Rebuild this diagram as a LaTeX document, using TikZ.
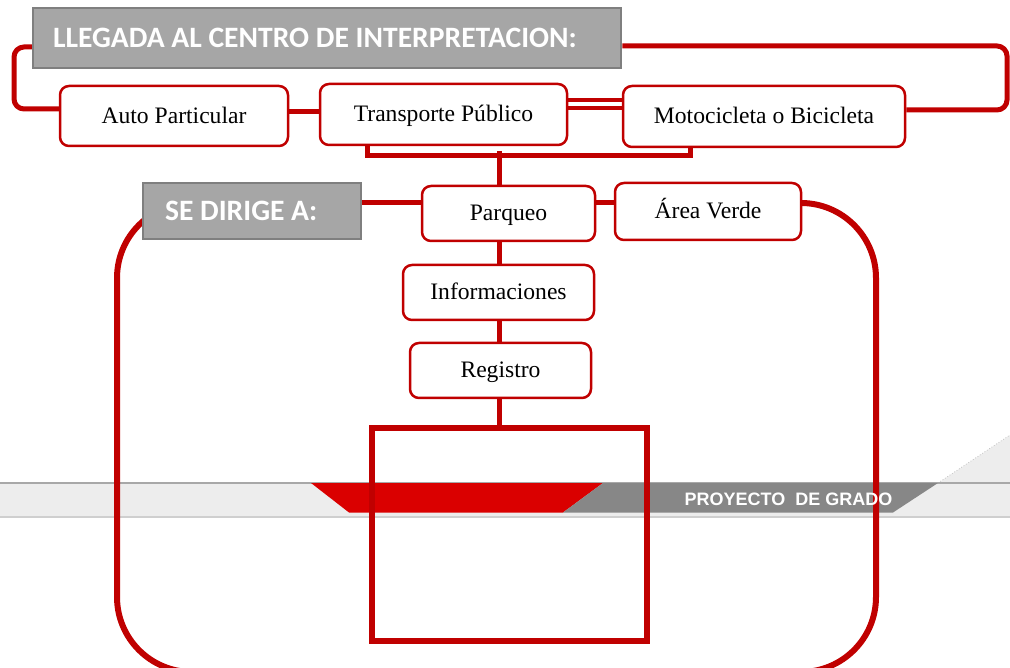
\documentclass[tikz,border=0pt]{standalone}
\usepackage{fontspec}
\setmainfont{Liberation Serif}
\newfontfamily\hdrfont{Carlito}
\newfontfamily\bandfont{Liberation Sans}
\usetikzlibrary{backgrounds}
\definecolor{rd}{HTML}{C00000}
\definecolor{trapred}{HTML}{DA0000}
\definecolor{hdrgray}{HTML}{A6A6A6}
\definecolor{hdrline}{HTML}{7F7F7F}
\definecolor{bandgray}{HTML}{EDEDED}
\definecolor{bandtop}{HTML}{A8A8A8}
\definecolor{bandbot}{HTML}{CFCFCF}
\definecolor{trapgray}{HTML}{878787}
\begin{document}
\begin{tikzpicture}[x=1pt,y=-1pt,
  hdrbox/.style={draw=hdrline, fill=hdrgray, line width=2.5pt, text=white,
    font=\hdrfont\bfseries\fontsize{29.6}{32}\selectfont, align=flush left, inner ysep=0pt},
  itembox/.style={draw=rd, fill=white, line width=2.5pt, rounded corners=9pt,
    inner sep=0pt, text height=16pt, text depth=1pt, font=\fontsize{23.6}{28}\selectfont},
  conn/.style={draw=rd, line width=5pt},
  thinconn/.style={draw=rd, line width=4pt},
  bigu/.style={draw=rd, line width=6pt, rounded corners=75pt},
  bandtext/.style={text=white, font=\bandfont\bfseries\fontsize{18}{20}\selectfont, inner sep=0pt}
]
\useasboundingbox (0,0) rectangle (1010,668);

% nodes
\node[hdrbox, text width=548pt, inner xsep=20pt, minimum height=60pt] (title) at (327,38) {\spaceskip=0pt\relax LLEGADA AL CENTRO DE INTERPRETACION:};
\node[hdrbox, text width=174pt, inner xsep=22pt, minimum height=56pt] (sedirige) at (252,211) {\spaceskip=0pt\relax SE DIRIGE A:};
\node[itembox, minimum width=228pt, minimum height=60pt] (auto) at (174,116) {Auto Particular};
\node[itembox, minimum width=247pt, minimum height=61pt] (transp) at (443.5,114.5) {Transporte Público};
\node[itembox, minimum width=282pt, minimum height=61pt] (moto) at (764,116.5) {Motocicleta o Bicicleta};
\node[itembox, minimum width=173pt, minimum height=55pt] (parqueo) at (508.5,213.5) {Parqueo};
\node[itembox, minimum width=186pt, minimum height=57pt] (area) at (708,211.5) {Área Verde};
\node[itembox, minimum width=191pt, minimum height=55pt] (info) at (498.5,292.5) {Informaciones};
\node[itembox, minimum width=181pt, minimum height=55pt] (reg) at (500.5,370.5) {Registro};
\node[draw=rd, line width=5.5pt, minimum width=275pt, minimum height=213pt, inner sep=0pt] (bigbox) at (509.5,534.5) {};
\node[bandtext] (pg) at (788.5,499.5) {PROYECTO\ \ DE GRADO};

% helper coordinates
\coordinate (lc) at (14,109);
\coordinate (rc) at (1007,110);
\coordinate (brk) at (499,156);
\coordinate (utl) at (117,203);
\coordinate (ubl) at (117,672);
\coordinate (ubr) at (876,672);
\coordinate (utr) at (876,203);

% connectors
\draw[conn, rounded corners=10pt] ([yshift=-9pt]title.west) -| (lc) -- ([yshift=7pt]auto.west);
\draw[conn, rounded corners=10pt] ([yshift=-8pt]title.east) -| (rc) -- ([yshift=6.5pt]moto.east);
\draw[conn] ([yshift=4pt]auto.east) -- ([yshift=2.5pt]transp.west);
\draw[thinconn] ([yshift=14.5pt]transp.east) -- ([yshift=16.5pt]moto.west);
\draw[thinconn] ([yshift=6.5pt]transp.east) -- ([yshift=8.5pt]moto.west);
\draw[conn] ([xshift=-76.5pt]transp.south) |- (brk) -| ([xshift=-74pt]moto.south);
\draw[conn] ([yshift=5pt]brk) -- (brk |- parqueo.north);
\draw[conn] ([yshift=8pt]sedirige.east) -- ([yshift=10.5pt]parqueo.west);
\draw[conn] ([yshift=10.5pt]parqueo.east) -- ([yshift=8.5pt]area.west);
\draw[conn] ([xshift=-9.5pt]parqueo.south) -- ([xshift=0.5pt]info.north);
\draw[conn] ([xshift=0.5pt]info.south) -- ([xshift=-1.5pt]reg.north);
\draw[conn] ([xshift=-1.5pt]reg.south) -- ([xshift=-10.5pt]bigbox.north);

\begin{scope}[on background layer]
  % band
  \fill[bandgray] (0,483) rectangle (1010,517);
  \fill[bandgray] (938,483) -- (1010,435) -- (1010,483) -- cycle;
  \draw[bandtop!70, line width=0.8pt, dotted] (938,483) -- (1010,435);
  \draw[bandtop, line width=1.5pt] (0,483) -- (1010,483);
  \draw[bandbot, line width=2pt] (0,517) -- (1010,517);
  \fill[trapred] (311,483) -- (603,483) -- (563,512.5) -- (349,512.5) -- cycle;
  \fill[trapgray] (603,483) -- (938,483) -- (893,512.5) -- (563,512.5) -- cycle;
  % big U connector
  \draw[bigu] ([yshift=8pt]sedirige.center) -- (utl) -- (ubl) -- (ubr) -- (utr) -- ([yshift=8.5pt]area.center);
\end{scope}
\end{tikzpicture}
\end{document}
